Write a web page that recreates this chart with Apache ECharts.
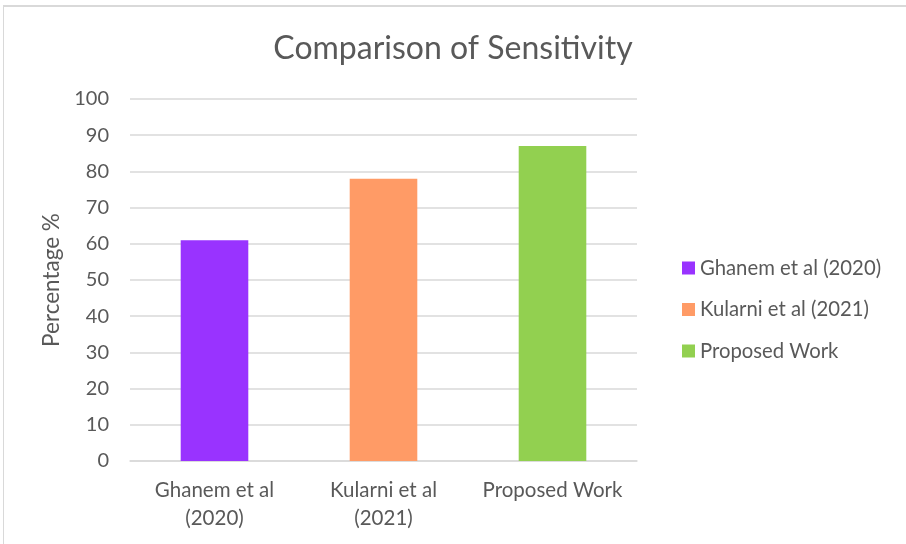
<!DOCTYPE html>
<html>
<head>
<meta charset="utf-8">
<script src="https://cdn.jsdelivr.net/npm/echarts@6/dist/echarts.min.js"></script>
<style>
html,body{margin:0;padding:0;background:#fff;}
#frame{position:absolute;left:3px;top:5px;width:903px;height:539px;border-top:2px solid #d9d9d9;border-left:1px solid #d9d9d9;box-sizing:border-box;}
#c{position:absolute;left:0;top:0;width:906px;height:544px;}
</style>
</head>
<body>
<div id="frame"></div>
<div id="c"></div>
<script>
const categories = ['Ghanem et al\n(2020)', 'Kularni et al\n(2021)', 'Proposed Work'];
const seriesNames = ['Ghanem et al (2020)', 'Kularni et al (2021)', 'Proposed Work'];
const sensitivity = [61, 78, 87];
const colors = ['#9933FF', '#FF9B66', '#92D050'];
const yTicks = {min: 0, max: 100, interval: 10};

const FONT = 'Lato';
const TXT = '#595959';

const series = seriesNames.map((name, i) => ({
  name: name,
  type: 'bar',
  stack: 'all',
  barWidth: '40%',
  itemStyle: {color: colors[i]},
  data: categories.map((c, j) => (j === i ? sensitivity[i] : '-'))
}));

const chart = echarts.init(document.getElementById('c'), null, {renderer: 'canvas'});
chart.setOption({
  animation: false,
  backgroundColor: 'transparent',
  textStyle: {fontFamily: FONT, color: TXT},
  title: {
    text: 'Comparison of Sensitivity',
    left: 'center',
    top: 28,
    textStyle: {fontFamily: FONT, fontSize: 32, fontWeight: 'normal', color: TXT}
  },
  legend: {
    orient: 'vertical',
    left: 677,
    top: 251,
    itemWidth: 13,
    itemHeight: 13,
    itemGap: 17.5,
    icon: 'rect',
    textStyle: {fontFamily: FONT, fontSize: 20.3, color: TXT, lineHeight: 24},
    data: seriesNames
  },
  grid: {left: 130, right: 269, top: 99, bottom: 83, containLabel: false},
  xAxis: {
    type: 'category',
    data: categories,
    axisTick: {show: false},
    axisLine: {lineStyle: {color: '#d9d9d9', width: 1.5}},
    axisLabel: {interval: 0, color: TXT, fontFamily: FONT, fontSize: 20.5, lineHeight: 28, margin: 15}
  },
  yAxis: {
    type: 'value',
    min: yTicks.min,
    max: yTicks.max,
    interval: yTicks.interval,
    name: 'Percentage %',
    nameLocation: 'middle',
    nameGap: 65,
    nameTextStyle: {fontFamily: FONT, fontSize: 22.5, color: TXT},
    axisLine: {show: false},
    axisTick: {show: false},
    axisLabel: {color: TXT, fontFamily: FONT, fontSize: 20, margin: 21},
    splitLine: {lineStyle: {color: '#d9d9d9', width: 1.5}}
  },
  series: series
});
</script>
</body>
</html>
